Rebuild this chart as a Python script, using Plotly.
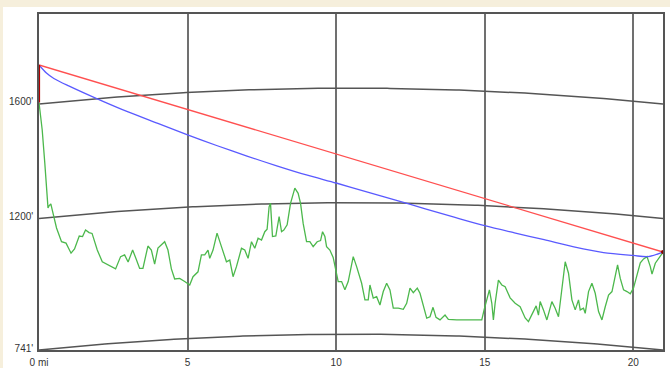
import numpy as np
import plotly.graph_objects as go

# Path length and earth-curvature constant (4/3 earth: bulge_ft = d1*d2/2, miles)
PATH_MI = 21.0

# Terrain profile as drawn on the curved-earth chart (miles, feet)
terrain_mi = [0.0, 0.108, 0.195, 0.253, 0.303, 0.337, 0.398, 0.455, 0.505, 0.59,
              0.758, 0.91, 1.078, 1.196, 1.355, 1.466, 1.567, 1.685, 1.786, 1.961,
              2.13, 2.308, 2.578, 2.746, 2.881, 2.999, 3.151, 3.269, 3.387, 3.498,
              3.666, 3.781, 3.892, 4.003, 4.172, 4.229, 4.34, 4.455, 4.566, 4.735,
              4.903, 5.072, 5.183, 5.351, 5.466, 5.577, 5.688, 5.746, 5.857, 5.992,
              6.14, 6.308, 6.42, 6.531, 6.645, 6.814, 6.925, 7.036, 7.151, 7.262,
              7.373, 7.488, 7.599, 7.677, 7.744, 7.791, 7.858, 7.97, 8.081, 8.162,
              8.239, 8.351, 8.465, 8.61, 8.721, 8.802, 8.89, 9.004, 9.115, 9.227,
              9.361, 9.476, 9.543, 9.621, 9.678, 9.789, 9.9, 9.992, 10.069, 10.184,
              10.295, 10.406, 10.575, 10.689, 10.858, 10.969, 11.08, 11.137, 11.249, 11.363,
              11.474, 11.586, 11.7, 11.811, 11.923, 12.091, 12.26, 12.374, 12.485, 12.597,
              12.731, 12.822, 12.933, 13.048, 13.159, 13.26, 13.361, 13.496, 13.664, 13.776,
              14.059, 14.507, 14.901, 14.979, 15.07, 15.158, 15.239, 15.292, 15.35, 15.461,
              15.576, 15.687, 15.855, 16.024, 16.192, 16.361, 16.472, 16.64, 16.731, 16.809,
              16.866, 16.977, 17.092, 17.26, 17.371, 17.483, 17.597, 17.709, 17.82, 17.934,
              18.046, 18.157, 18.214, 18.325, 18.382, 18.494, 18.608, 18.719, 18.831, 18.945,
              19.056, 19.168, 19.283, 19.394, 19.471, 19.562, 19.673, 19.788, 19.899, 20.01,
              20.125, 20.236, 20.347, 20.462, 20.573, 20.63, 20.741, 20.853, 21.0]
terrain_ft = [1605, 1509, 1394, 1300, 1237, 1244, 1251, 1226, 1205, 1167,
              1119, 1114, 1079, 1094, 1139, 1137, 1160, 1151, 1148, 1090,
              1049, 1038, 1024, 1067, 1073, 1048, 1090, 1059, 1026, 1026,
              1104, 1090, 1041, 1097, 1111, 1119, 1090, 1024, 989, 991,
              980, 968, 997, 1014, 1073, 1073, 1090, 1061, 1090, 1149,
              1102, 1049, 1055, 997, 1032, 1096, 1090, 1061, 1119, 1096,
              1131, 1125, 1154, 1163, 1241, 1253, 1137, 1139, 1207, 1154,
              1160, 1178, 1253, 1306, 1288, 1253, 1183, 1119, 1119, 1102,
              1119, 1123, 1154, 1137, 1102, 1090, 1064, 1017, 980, 980,
              951, 980, 1067, 1032, 974, 916, 916, 968, 922, 927,
              898, 945, 974, 951, 887, 887, 883, 904, 957, 941,
              957, 939, 892, 852, 857, 890, 855, 846, 863, 848,
              846, 846, 846, 881, 916, 951, 904, 846, 904, 985,
              968, 962, 923, 904, 892, 853, 840, 875, 895, 863,
              910, 881, 846, 910, 887, 857, 962, 1049, 1009, 916,
              881, 916, 881, 887, 869, 945, 974, 939, 875, 846,
              892, 933, 945, 997, 1038, 991, 951, 945, 937, 958,
              999, 1045, 1059, 1067, 1032, 1006, 1044, 1061, 1082]

# Refracted ray path between the two antennas
ray_mi = [0, 0.25, 0.5, 1, 2, 3, 4, 5, 6, 7, 8, 9, 10, 11, 12, 13, 14, 15, 16, 17,
          18, 19, 20, 20.5, 21]
ray_ft = [1736, 1708, 1689, 1663, 1616, 1572, 1532, 1492, 1454, 1418, 1384, 1352,
          1324, 1294, 1264, 1234, 1204, 1175, 1150, 1126, 1101, 1081, 1071,
          1067, 1083]

# Straight line of sight: transmitter antenna top to receiver
los_mi = [0, 21]
los_ft = [1736, 1083]

# Transmitter mast at the start of the path
mast_mi = [0, 0]
mast_ft = [1605, 1736]

# Elevation reference levels and distance ticks
level_ft = [741, 1200, 1600]
level_text = ["741'", "1200'", "1600'"]
dist_ticks = [0, 5, 10, 15, 20]
dist_text = ["0 mi", "5", "10", "15", "20"]

Y_RANGE = [741, 1914]


def bulge(x):
    x = np.asarray(x, dtype=float)
    return x * (PATH_MI - x) / 2.0


fig = go.Figure()

# Curved constant-elevation reference lines
arc_x = np.linspace(0, PATH_MI, 200)
for lv in level_ft:
    fig.add_trace(go.Scatter(x=arc_x, y=lv + bulge(arc_x), mode="lines",
                             line=dict(color="#555555", width=1.5),
                             hoverinfo="skip", showlegend=False))

fig.add_trace(go.Scatter(x=terrain_mi, y=terrain_ft, mode="lines",
                         line=dict(color="#4cb84c", width=1.3),
                         showlegend=False))
fig.add_trace(go.Scatter(x=ray_mi, y=ray_ft, mode="lines",
                         line=dict(color="#5a5aff", width=1.3, shape="spline",
                                   smoothing=0.8),
                         showlegend=False))
fig.add_trace(go.Scatter(x=los_mi, y=los_ft, mode="lines",
                         line=dict(color="#ff5050", width=1.3),
                         showlegend=False))
fig.add_trace(go.Scatter(x=mast_mi, y=mast_ft, mode="lines",
                         line=dict(color="#b00000", width=2.2),
                         showlegend=False))
fig.add_trace(go.Scatter(x=[los_mi[-1]], y=[los_ft[-1]], mode="markers",
                         marker=dict(color="#8b0000", size=4),
                         showlegend=False))

# White panel over the beige page, inset at top and left
fig.add_shape(type="rect", xref="paper", yref="paper",
              x0=-36 / 624, x1=1 + 7 / 624, y0=-18 / 336, y1=1 + 7 / 336,
              fillcolor="white", line_width=0, layer="below")

axis_font = dict(family="Liberation Sans, Arial, sans-serif", size=10,
                 color="#333333")

fig.update_layout(
    width=670, height=368,
    margin=dict(l=39, r=7, t=14, b=18),
    paper_bgcolor="#f6efdc",
    plot_bgcolor="white",
    showlegend=False,
    xaxis=dict(range=[0, PATH_MI], tickvals=dist_ticks, ticktext=dist_text,
               showgrid=True, gridcolor="#707070", gridwidth=1.6,
               zeroline=False, showline=True, linecolor="#555555",
               linewidth=1.6, mirror=True, ticks="", tickfont=axis_font,
               ticklabelstandoff=2, automargin=False, fixedrange=True),
    yaxis=dict(range=Y_RANGE, tickvals=level_ft, ticktext=level_text,
               showgrid=False, zeroline=False, showline=True,
               linecolor="#555555", linewidth=1.6, mirror=True, ticks="",
               tickfont=axis_font, ticklabelshift=-2, ticklabelstandoff=2,
               automargin=False, fixedrange=True),
)

fig.write_html("out.html")
